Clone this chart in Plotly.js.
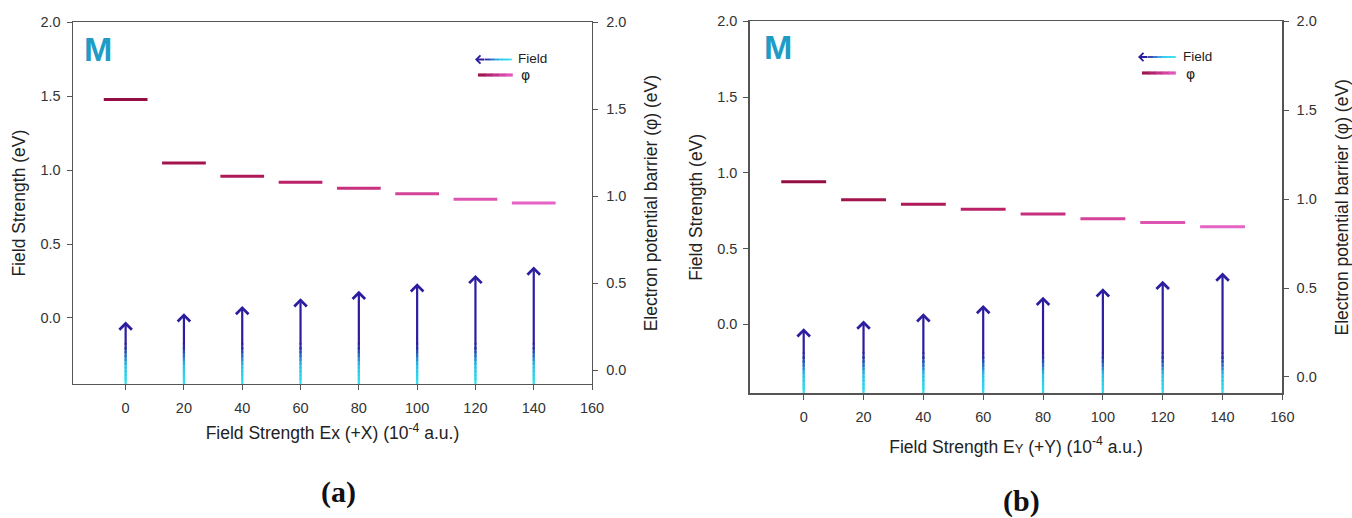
<!DOCTYPE html>
<html><head><meta charset="utf-8">
<script src="https://cdn.plot.ly/plotly-3.0.1.min.js"></script>
<style>html,body{margin:0;padding:0;background:#fff}#chart{width:1352px;height:518px}</style>
</head><body><div id="chart"></div>
<script>
// ---- data ----
const fieldX = [0, 20, 40, 60, 80, 100, 120, 140];
const fieldTipA = [-0.025, 0.032, 0.081, 0.133, 0.183, 0.235, 0.291, 0.348];
const phiA = [1.556, 1.191, 1.114, 1.080, 1.045, 1.014, 0.982, 0.961];
const fieldTipB = [-0.026, 0.024, 0.073, 0.127, 0.182, 0.238, 0.287, 0.341];
const phiB = [1.098, 0.996, 0.971, 0.943, 0.917, 0.890, 0.868, 0.844];
const xTickVals = [0, 20, 40, 60, 80, 100, 120, 140, 160];
const yTickVals = [0, 0.5, 1.0, 1.5, 2.0];
const titleXA = 'Field Strength Ex (+X) (10<sup>-4</sup> a.u.)';
const titleXB = 'Field Strength E<span style="font-size:13px">Y</span> (+Y) (10<sup>-4</sup> a.u.)';
const titleYL = 'Field Strength (eV)';
const titleYR = 'Electron potential barrier (φ) (eV)';

// ---- styles ----
const phiColors = ['#950e43','#a3134e','#ae1958','#bb2168','#c8307e','#d54399','#de55b1','#e463c4'];
const FONT = 'Liberation Sans, Arial, sans-serif';
const AXC = '#555';
const PX = x => x / 1352, PY = y => 1 - y / 518;

function mix(a, b, t) {
  return 'rgb(' + a.map((v, i) => Math.round(v + (b[i] - v) * t)).join(',') + ')';
}
function gradColor(t) {
  const c0 = [46, 228, 240], c1 = [44, 190, 232], c2 = [42, 28, 158];
  return t < 0.5 ? mix(c0, c1, t / 0.5) : mix(c1, c2, (t - 0.5) / 0.5);
}

const traces = [];
const annotations = [];
const shapes = [];

function panel(xa, yaL, yaR, tips, phi, yMin, gradTop) {
  // phi segments (right axis)
  phi.forEach((v, i) => {
    traces.push({x: [fieldX[i] - 7.5, fieldX[i] + 7.5], y: [v, v], xaxis: xa, yaxis: yaR,
      mode: 'lines', line: {color: phiColors[i], width: 3}, showlegend: false, hoverinfo: 'skip'});
  });
  // gradient lower shafts of field arrows (left axis)
  const N = 10;
  for (let k = 0; k < N; k++) {
    const xs = [], ys = [];
    const a = yMin + (gradTop - yMin) * k / N;
    const b = yMin + (gradTop - yMin) * (k + 1) / N + 0.018;
    fieldX.forEach(x => { xs.push(x, x, null); ys.push(a, b, null); });
    traces.push({x: xs, y: ys, xaxis: xa, yaxis: yaL, mode: 'lines',
      line: {color: gradColor((k + 0.5) / N), width: 2.2}, showlegend: false, hoverinfo: 'skip', cliponaxis: false});
  }
  // upper shafts + heads
  fieldX.forEach((x, i) => {
    annotations.push({x: x, y: tips[i], ax: x, ay: gradTop, xref: xa, yref: yaL, axref: xa, ayref: yaL,
      text: '', showarrow: true, arrowhead: 4, arrowsize: 1.1, arrowwidth: 2.2, arrowcolor: '#2b1ca0', standoff: 0});
  });
}

panel('x', 'y', 'y2', fieldTipA, phiA, -0.447, -0.19);
panel('x2', 'y3', 'y4', fieldTipB, phiB, -0.456, -0.205);

// ---- legends (drawn) ----
function legend(xArrowHead, xArrowTail, yArrow, xPhi0, xPhi1, yPhi, xText, yPhiText) {
  const n = 6;
  const shaftStart = xArrowHead + 10;
  for (let k = 0; k < n; k++) {
    const x0 = shaftStart + (xArrowTail - shaftStart) * k / n;
    const x1 = shaftStart + (xArrowTail - shaftStart) * (k + 1) / n + 0.8;
    shapes.push({type: 'line', xref: 'paper', yref: 'paper', x0: PX(x0), x1: PX(x1), y0: PY(yArrow), y1: PY(yArrow),
      line: {color: gradColor(1 - (k + 0.5) / n), width: 1.8}});
  }
  annotations.push({x: PX(xArrowHead), y: PY(yArrow), xref: 'paper', yref: 'paper', ax: 11, ay: 0,
    text: '', showarrow: true, arrowhead: 4, arrowsize: 0.9, arrowwidth: 1.8, arrowcolor: '#2b1ca0', standoff: 0});
  const m = 5;
  for (let k = 0; k < m; k++) {
    const x0 = xPhi0 + (xPhi1 - xPhi0) * k / m, x1 = xPhi0 + (xPhi1 - xPhi0) * (k + 1) / m + 0.8;
    shapes.push({type: 'line', xref: 'paper', yref: 'paper', x0: PX(x0), x1: PX(x1), y0: PY(yPhi), y1: PY(yPhi),
      line: {color: mix([150, 14, 70], [236, 92, 200], (k + 0.5) / m), width: 3.2}});
  }
  annotations.push({x: PX(xText), y: PY(yArrow - 1), xref: 'paper', yref: 'paper', xanchor: 'left', yanchor: 'middle',
    text: 'Field', showarrow: false, font: {family: FONT, size: 13.5, color: '#222'}});
  annotations.push({x: PX(xText + 3), y: PY(yPhiText + 1.5), xref: 'paper', yref: 'paper', xanchor: 'left', yanchor: 'middle',
    text: 'φ', showarrow: false, font: {family: 'DejaVu Sans, sans-serif', size: 14, color: '#222'}});
}
legend(475, 511, 59.5, 478, 512, 75, 516, 73);
legend(1138, 1175, 57, 1142, 1175, 73, 1181, 72);

// ---- panel labels ----
[[98, 49, 'M'], [778, 47, 'M']].forEach(p => annotations.push({x: PX(p[0]), y: PY(p[1]), xref: 'paper', yref: 'paper',
  xanchor: 'center', yanchor: 'middle',
  text: '<b>' + p[2] + '</b>', showarrow: false, font: {family: FONT, size: 34, color: '#1e9cc6'}}));
[[339, 492, '(a)'], [1021, 501, '(b)']].forEach(p => annotations.push({x: PX(p[0]), y: PY(p[1]), xref: 'paper', yref: 'paper',
  xanchor: 'center', yanchor: 'middle',
  text: '<b>' + p[2] + '</b>', showarrow: false, font: {family: 'Liberation Serif, Times New Roman, serif', size: 30, color: '#111'}}));

// ---- axes ----
const tickFont = {family: FONT, size: 14.5, color: '#333'};
const titleFont = {family: FONT, size: 17.5, color: '#222'};
function xAxis(domain, anchor, title, standoff) {
  return {domain: domain, anchor: anchor, range: [-18.1, 160], tickvals: xTickVals, ticks: 'outside', ticklen: 5,
    tickcolor: AXC, showline: true, linecolor: AXC, linewidth: 1.3, mirror: true, showgrid: false, zeroline: false,
    tickfont: tickFont, ticklabelstandoff: 5, title: {text: title, font: titleFont, standoff: standoff}, fixedrange: true};
}
function yAxis(domain, anchor, range, title, standoff, extra) {
  return Object.assign({domain: domain, anchor: anchor, range: range, tickvals: yTickVals, tickformat: '.1f',
    ticks: 'outside', ticklen: 5, tickcolor: AXC, showline: true, linecolor: AXC, linewidth: 1.3,
    showgrid: false, zeroline: false, tickfont: tickFont, ticklabelstandoff: 3,
    title: {text: title, font: titleFont, standoff: standoff}, fixedrange: true}, extra || {});
}

const layout = {
  width: 1352, height: 518, margin: {l: 0, r: 0, t: 0, b: 0},
  paper_bgcolor: '#fff', plot_bgcolor: 'rgba(0,0,0,0)', showlegend: false,
  xaxis: xAxis([0.0539, 0.4379], 'y', titleXA, 12),
  yaxis: yAxis([0.2587, 0.957], 'x', [-0.447, 2.0], titleYL, 10),
  yaxis2: yAxis([0.2587, 0.957], 'x', [-0.08, 2.0], titleYR, 19, {overlaying: 'y', side: 'right', ticklabelstandoff: 5}),
  xaxis2: xAxis([0.5544, 0.9485], 'y3', titleXB, 16),
  yaxis3: yAxis([0.2407, 0.9589], 'x2', [-0.456, 2.0], titleYL, 10),
  yaxis4: yAxis([0.2407, 0.9589], 'x2', [-0.092, 2.0], titleYR, 22, {overlaying: 'y3', side: 'right', ticklabelstandoff: 5}),
  annotations: annotations, shapes: shapes
};

Plotly.newPlot('chart', traces, layout, {staticPlot: true, displayModeBar: false});
</script>
</body></html>
